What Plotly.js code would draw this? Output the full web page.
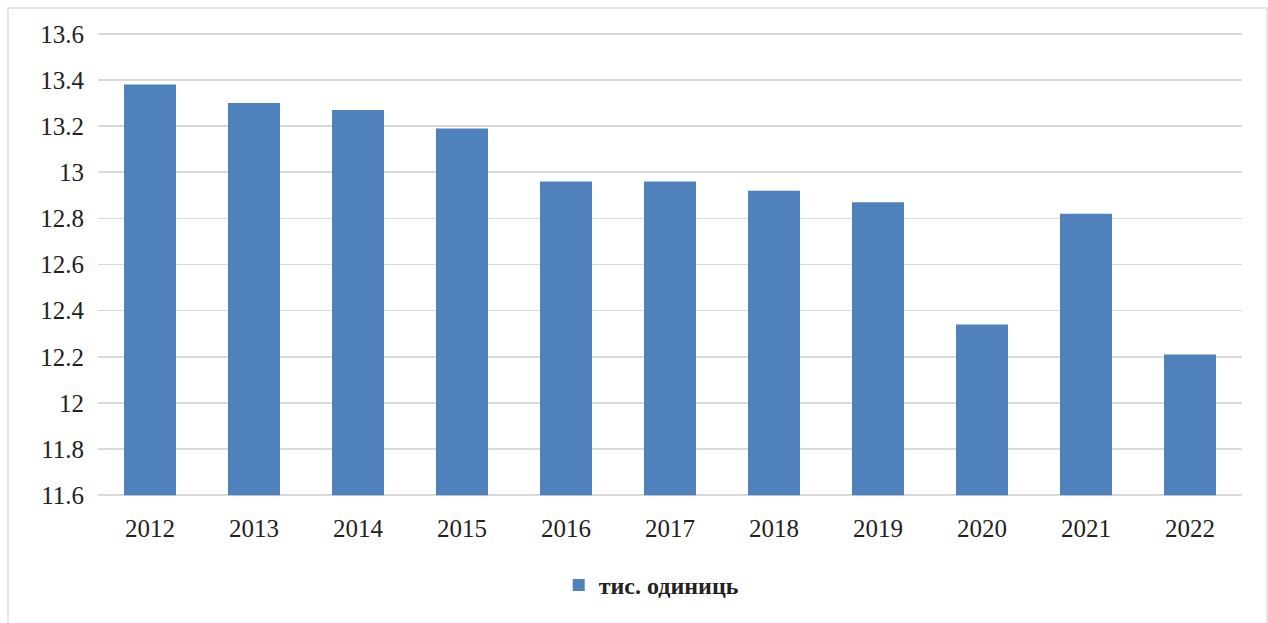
<!DOCTYPE html>
<html>
<head>
<meta charset="utf-8">
<script src="https://cdn.plot.ly/plotly-3.0.1.min.js"></script>
<style>html,body{margin:0;padding:0;background:#fff;}#chart{width:1268px;height:623px;}</style>
</head>
<body>
<div id="chart"></div>
<script>
var years = ['2012','2013','2014','2015','2016','2017','2018','2019','2020','2021','2022'];
var values = [13.38, 13.30, 13.27, 13.19, 12.96, 12.96, 12.92, 12.87, 12.34, 12.82, 12.21];
var seriesName = 'тис. одиниць';
var yTicks = [11.6, 11.8, 12, 12.2, 12.4, 12.6, 12.8, 13, 13.2, 13.4, 13.6];
var axisMin = 11.6;

var trace = {
  type: 'bar',
  x: years,
  y: values.map(function(v){ return v - axisMin; }),
  base: axisMin,
  name: seriesName,
  marker: {color: '#4f81bd'},
  hoverinfo: 'x+y'
};

var FONT = '"Liberation Serif", Tinos, "Times New Roman", Times, serif';

var layout = {
  width: 1268, height: 623,
  margin: {l: 98, r: 26, t: 32, b: 126},
  paper_bgcolor: '#ffffff', plot_bgcolor: '#ffffff',
  font: {family: FONT, size: 25, color: '#222'},
  showlegend: true,
  legend: {orientation: 'h', x: 0.484, xanchor: 'center', y: -0.19, yanchor: 'middle',
           font: {family: FONT, size: 24, color: '#222', weight: 'bold'},
           itemwidth: 30},
  xaxis: {type: 'category', showgrid: false, zeroline: false, showline: false,
          ticks: 'outside', ticklen: 9, tickcolor: 'rgba(0,0,0,0)', tickfont: {family: FONT, size: 25, color: '#222'}},
  yaxis: {range: [11.592, 13.608], tickvals: yTicks, ticktext: yTicks.map(String),
          showgrid: true, gridcolor: '#d9d9d9', gridwidth: 1.5, zeroline: false, showline: false,
          ticks: 'outside', ticklen: 8, tickcolor: 'rgba(0,0,0,0)', tickfont: {family: FONT, size: 25, color: '#222'}},
  bargap: 0.5,
  shapes: [{type: 'rect', xref: 'paper', yref: 'paper',
            x0: -90/1144, x1: (1267-98)/1144, y0: -140/465, y1: 1 + 24/465,
            line: {color: '#e6e6e6', width: 2}, fillcolor: 'rgba(0,0,0,0)', layer: 'below'}]
};

Plotly.newPlot('chart', [trace], layout, {displayModeBar: false, staticPlot: true});
</script>
</body>
</html>
